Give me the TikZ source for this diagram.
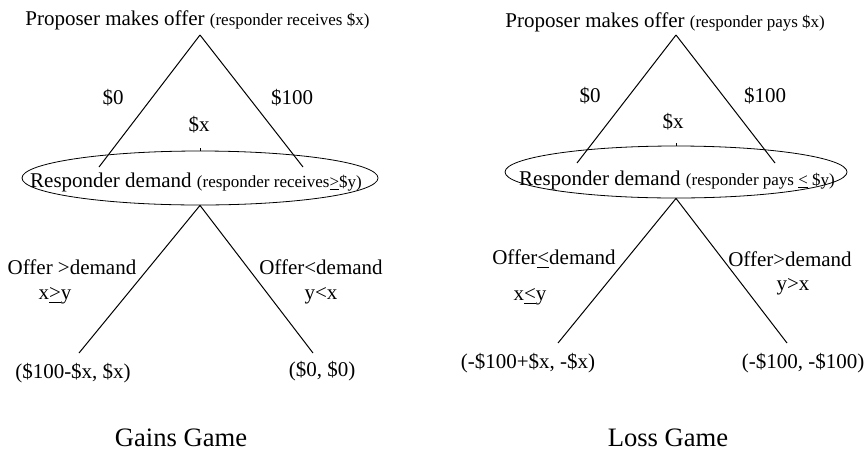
\documentclass[tikz,border=0pt]{standalone}
\usepackage{fontspec}
\setmainfont{Liberation Serif}
\usetikzlibrary{shapes.geometric}
\newcommand{\gamenote}{\fontsize{8.5}{10}\selectfont}

\begin{document}
\begin{tikzpicture}[
  x=0.5pt, y=-0.5pt,
  lbl/.style={font=\fontsize{10.5}{12}\selectfont, inner sep=0pt},
  caption/.style={font=\fontsize{13.3}{15}\selectfont, inner sep=0pt},
  demand/.style={draw, ellipse, inner sep=0pt},
  branch/.style={line width=0.5pt}
]
  \useasboundingbox (0,0) rectangle (865,450);

  % Gains game
  \coordinate (pl) at (200,35);
  \node[lbl, anchor=base west] (tl) at (25,25)
    {Proposer makes offer {\gamenote(responder receives \$x)}};
  \coordinate (al) at (99,167);
  \coordinate (bl) at (303,167);
  \draw[branch] (pl) -- (al);
  \draw[branch] (pl) -- (bl);
  \node[lbl] (zl) at (113,98) {\$0};
  \node[lbl] (hl) at (292,98) {\$100};
  \node[lbl] (xl) at (199,125) {\$x};
  \node[demand, minimum width=178pt, minimum height=27pt] (dl) at (200,178) {};
  \draw[branch] (dl.north) -- ++(0,-3);
  \node[lbl] (rl) at (196,182)
    {Responder demand {\gamenote(responder receives\underline{>}\$y)}};
  \coordinate (cl) at (79,353);
  \coordinate (el) at (313,353);
  \draw[branch] (dl.south) -- (cl);
  \draw[branch] (dl.south) -- (el);
  \node[lbl] (ol1) at (72,267) {Offer >demand};
  \node[lbl] (ql1) at (55,296) {x\underline{>}y};
  \node[lbl] (ol2) at (321,267) {Offer<demand};
  \node[lbl] (ql2) at (321,296) {y<x};
  \node[lbl] (vl1) at (73,373) {(\$100-\$x, \$x)};
  \node[lbl] (vl2) at (322,371) {(\$0, \$0)};
  \node[caption] (gl) at (181,438) {Gains Game};

  % Loss game
  \coordinate (pr) at (676,35);
  \node[lbl, anchor=base west] (tr) at (505,27)
    {Proposer makes offer {\gamenote(responder pays \$x)}};
  \coordinate (ar) at (577,163);
  \coordinate (br) at (775,163);
  \draw[branch] (pr) -- (ar);
  \draw[branch] (pr) -- (br);
  \node[lbl] (zr) at (590,96) {\$0};
  \node[lbl] (hr) at (765,96) {\$100};
  \node[lbl] (xr) at (673,122) {\$x};
  \node[demand, minimum width=171pt, minimum height=26pt] (dr) at (676,172) {};
  \draw[branch] (dr.north) -- ++(0,-3);
  \node[lbl] (rr) at (677,180)
    {Responder demand {\gamenote(responder pays \underline{<} \$y)}};
  \coordinate (cr) at (558,343);
  \coordinate (er) at (787,343);
  \draw[branch] (dr.south) -- (cr);
  \draw[branch] (dr.south) -- (er);
  \node[lbl] (or1) at (554,259) {Offer\underline{<}demand};
  \node[lbl] (qr1) at (530,297) {x\underline{<}y};
  \node[lbl] (or2) at (790,259) {Offer>demand};
  \node[lbl] (qr2) at (793,287) {y>x};
  \node[lbl] (vr1) at (528,363) {(-\$100+\$x, -\$x)};
  \node[lbl] (vr2) at (803,363) {(-\$100, -\$100)};
  \node[caption] (gr) at (668,438) {Loss Game};
\end{tikzpicture}
\end{document}
